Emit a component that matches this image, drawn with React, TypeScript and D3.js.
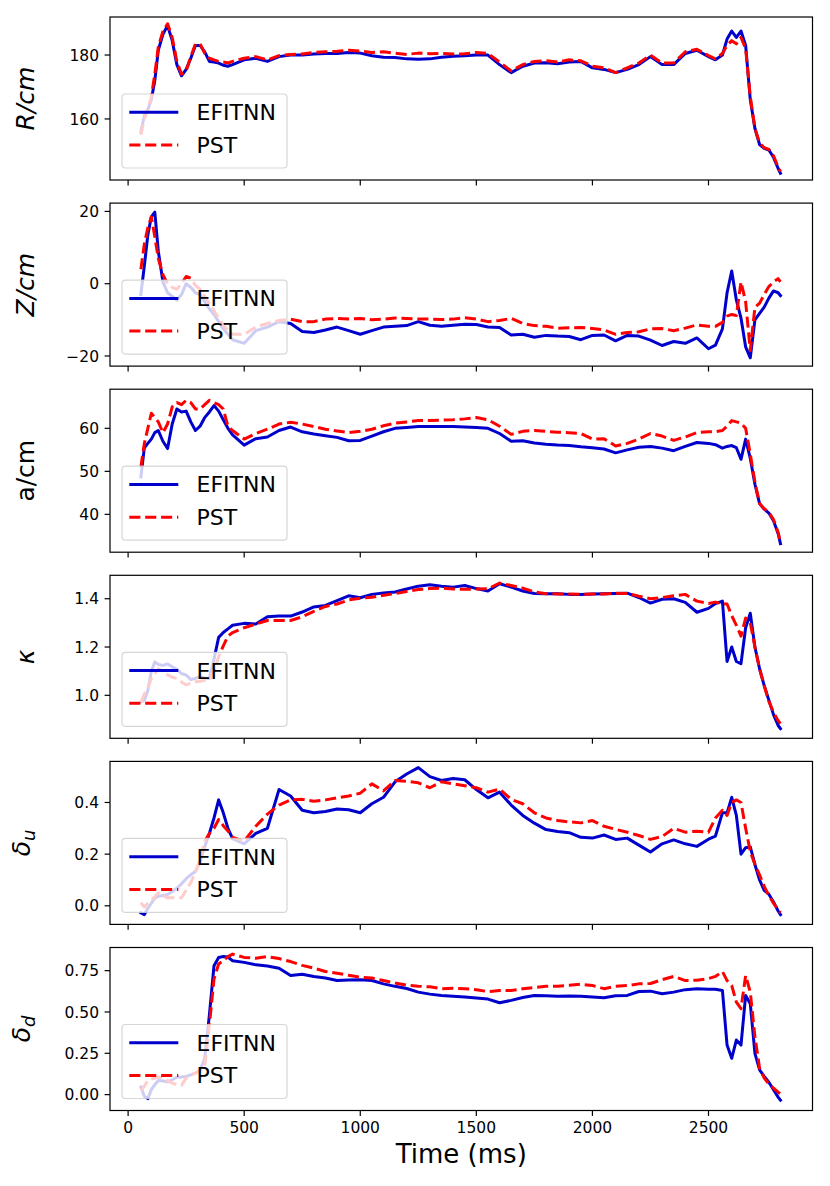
import * as d3 from 'd3';

// shared time base (ms)
const time = [
  55, 70, 85, 100, 115, 130, 150, 170, 190, 210, 230, 250, 270, 290, 310, 330, 350, 370, 390, 410, 430, 450,
  500, 550, 600, 650, 700, 750, 800, 850, 900, 950, 1000, 1050, 1100, 1150, 1200, 1250, 1300, 1350, 1400, 1450,
  1500, 1550, 1600, 1650, 1700, 1750, 1800, 1850, 1900, 1950, 2000, 2050, 2100, 2150, 2200, 2250, 2300, 2350,
  2400, 2450, 2500,
  2530, 2560, 2580, 2600, 2620, 2640, 2660, 2680, 2700, 2720, 2740, 2760, 2780, 2800, 2810,
];

const rEfit = [
  156, 161, 163, 166, 172, 181.5, 186.5, 189.2, 184.5, 177, 173.5, 175.5, 179, 183, 183, 181, 178, 177.8, 177.5, 176.8, 176.5, 177,
  178.5, 179, 178, 179.5, 180, 180, 180.3, 180.5, 180.5, 180.8, 180.6, 179.8, 179.3, 179.2, 178.8, 178.7, 178.8, 179.3, 179.6, 179.8,
  180, 180, 177, 174.5, 176.5, 177.5, 177.6, 177.3, 177.8, 178, 176, 175.5, 174.5, 175.5, 177, 179.5, 177, 177, 180.5, 181.5, 179.5,
  178.5, 180, 185, 187.5, 185.5, 187.5, 183, 166, 157, 152, 150.8, 150.3, 148, 144.5, 143,
];
const rPst = [
  155, 160, 163, 167, 174, 182.5, 187.5, 189.8, 185.5, 178, 174, 175, 179.5, 183.5, 183.5, 180.5, 179, 178.5, 178, 177.8, 177.5, 178,
  179, 179.5, 178.5, 179.8, 180.2, 180.3, 180.8, 181, 181.2, 181.5, 181.2, 180.8, 181, 180.6, 180.2, 180.6, 180.4, 180.5, 180.3, 180.4,
  180.8, 180.5, 177.8, 175, 177, 178, 178.2, 177.8, 178.5, 178.2, 176.5, 176, 174.5, 176, 177.5, 180, 177.5, 177.5, 181, 181.8, 179.8,
  178.8, 180.5, 183, 184.5, 183.5, 185.5, 182, 167, 157, 152.5, 151, 150.5, 148.5, 145, 143.5,
];

const zEfit = [
  -3, 5, 13.5, 18.5, 19.8, 9, 0.5, -2.5, -3.5, -4.5, -3, 0, -1, -2.5, -3, -5, -7, -8.5, -10.5, -12.5, -14, -15.5,
  -16.5, -13, -12, -10.5, -11, -13.2, -13.5, -12.8, -12, -13, -14, -13, -12, -11.8, -11.6, -10.5, -11.5, -11.8, -11.5, -11.2,
  -11.3, -12, -12.1, -14.2, -14, -14.8, -14.3, -14.5, -14.6, -15.5, -14.3, -14.2, -15.8, -14.3, -14.5, -15.6, -17.1, -16, -16.5, -15, -18,
  -17, -12.5, -2.5, 3.5, -4.5, -9.5, -17.5, -20.5, -10, -8.2, -6.5, -4, -2, -2.5, -3.3,
];
const zPst = [
  4, 11, 15.5, 18.5, 13, 7, 2.5, 0, -1, -1.5, 0, 2, 1.5, -0.5, -1.5, -3.5, -5.5, -7.5, -9.5, -11.5, -13, -14,
  -14, -12, -11, -10.2, -9.8, -10.5, -10.5, -9.8, -9.6, -9.8, -9.6, -10, -9.8, -9.5, -9.6, -9.8, -9.8, -9.9, -9.8, -9.4,
  -9.8, -10.5, -10.2, -9.6, -11, -11.6, -11.8, -12.3, -12.2, -12.1, -12.4, -12.8, -14, -13.5, -13.3, -12.5, -12.4, -13, -12.3, -11.4, -11.8,
  -11.8, -10.7, -9, -8.5, -8.8, 0.5, -5, -18.5, -6.5, -5.4, -3, -0.8, 0.5, 1.4, 0.5,
];

const aEfit = [
  48.7, 55.5, 56.5, 57.5, 59, 59.5, 57, 55.3, 61, 64.5, 63.8, 64, 61.5, 59.5, 60.5, 62.5, 63.8, 65.3, 64, 62, 60, 58.5,
  56.1, 57.6, 58, 59.5, 60.3, 59.2, 58.7, 58.3, 57.9, 57.1, 57.2, 58.2, 59.2, 60, 60.2, 60.4, 60.4, 60.4, 60.4, 60.3,
  60.2, 60, 58.8, 57, 57.1, 56.6, 56.3, 56.1, 56, 55.7, 55.5, 55.2, 54.3, 55, 55.6, 55.8, 55.4, 54.8, 55.8, 56.7, 56.5,
  56.2, 55.4, 55.8, 56, 55.5, 52.8, 57.5, 53, 47, 42.5, 41.2, 40.3, 38.5, 35.5, 33.2,
];
const aPst = [
  51, 56.5, 60, 63.5, 62.5, 61.5, 59, 61, 65, 66, 65.5, 66.5, 66, 64.5, 64.5, 65.5, 66.5, 66, 65.5, 64.5, 60.5, 59.5,
  57.5, 58.8, 59.8, 61, 61.4, 61, 60.4, 59.8, 59.4, 59, 59.3, 59.8, 60.6, 61.2, 61.5, 61.8, 61.8, 61.9, 62, 62.2,
  62.5, 62, 60.5, 58.6, 59.3, 59.5, 59.3, 59.1, 59, 58.8, 57.5, 57.6, 55.9, 56.5, 57.5, 58.8, 58.2, 57.2, 58, 59, 59.2,
  59.2, 59.5, 60.5, 61.8, 61.5, 61.2, 60, 54, 47.5, 42.5, 41.3, 40.5, 38.8, 35.8, 33.5,
];

const kEfit = [
  0.972, 0.98, 1.02, 1.1, 1.138, 1.128, 1.124, 1.13, 1.118, 1.108, 1.09, 1.084, 1.065, 1.07, 1.077, 1.072, 1.07, 1.15, 1.24, 1.26, 1.275, 1.29,
  1.298, 1.295, 1.325, 1.328, 1.328, 1.345, 1.366, 1.372, 1.392, 1.412, 1.404, 1.418, 1.424, 1.428, 1.44, 1.452, 1.458, 1.452, 1.448, 1.455,
  1.442, 1.432, 1.462, 1.448, 1.432, 1.422, 1.421, 1.421, 1.418, 1.417, 1.42, 1.421, 1.422, 1.423, 1.405, 1.382, 1.398, 1.4, 1.385, 1.344, 1.36,
  1.38, 1.39, 1.14, 1.2, 1.14, 1.131, 1.28, 1.34, 1.2, 1.11, 1.04, 0.98, 0.92, 0.875, 0.862,
];
const kPst = [
  0.972, 1.005, 1.03, 1.07, 1.09, 1.11, 1.1, 1.085, 1.075, 1.07, 1.055, 1.043, 1.05, 1.056, 1.058, 1.062, 1.064, 1.1, 1.16, 1.205, 1.245, 1.26,
  1.28, 1.295, 1.31, 1.31, 1.31, 1.325, 1.348, 1.368, 1.378, 1.395, 1.402, 1.406, 1.414, 1.421, 1.43, 1.438, 1.442, 1.444, 1.44, 1.439,
  1.44, 1.441, 1.465, 1.455, 1.444, 1.428, 1.421, 1.42, 1.42, 1.418, 1.42, 1.42, 1.423, 1.422, 1.41, 1.4, 1.405, 1.412, 1.418, 1.39, 1.38,
  1.386, 1.38, 1.378, 1.33, 1.29, 1.245, 1.32, 1.3, 1.2, 1.11, 1.04, 0.975, 0.93, 0.895, 0.883,
];

const duEfit = [
  -0.027, -0.034, -0.01, 0.01, 0.03, 0.037, 0.04, 0.044, 0.055, 0.068, 0.085, 0.105, 0.12, 0.133, 0.17, 0.23, 0.28, 0.34, 0.41, 0.36, 0.3, 0.26,
  0.24, 0.28, 0.3, 0.45, 0.425, 0.37, 0.36, 0.365, 0.375, 0.372, 0.36, 0.395, 0.42, 0.48, 0.51, 0.535, 0.5, 0.485, 0.493, 0.488,
  0.45, 0.418, 0.44, 0.39, 0.35, 0.32, 0.295, 0.288, 0.283, 0.265, 0.262, 0.274, 0.257, 0.262, 0.235, 0.208, 0.24, 0.255, 0.24, 0.23, 0.258,
  0.27, 0.36, 0.36, 0.42, 0.35, 0.2, 0.225, 0.228, 0.16, 0.1, 0.06, 0.045, 0.015, -0.02, -0.034,
];
const duPst = [
  0.012, -0.005, 0.01, 0.02, 0.035, 0.05, 0.04, 0.031, 0.031, 0.031, 0.031, 0.06, 0.09, 0.13, 0.18, 0.25, 0.28, 0.3, 0.334, 0.31, 0.29, 0.265,
  0.25, 0.308, 0.355, 0.39, 0.41, 0.412, 0.405, 0.41, 0.418, 0.425, 0.436, 0.472, 0.445, 0.485, 0.482, 0.476, 0.457, 0.48, 0.472, 0.465,
  0.457, 0.44, 0.452, 0.412, 0.395, 0.36, 0.34, 0.33, 0.325, 0.321, 0.33, 0.308, 0.296, 0.285, 0.272, 0.257, 0.268, 0.3, 0.285, 0.289, 0.285,
  0.34, 0.37, 0.35, 0.4, 0.41, 0.4, 0.3, 0.21, 0.16, 0.12, 0.075, 0.04, 0.01, -0.015, -0.027,
];

const ddEfit = [
  0.046, -0.01, -0.024, 0.03, 0.06, 0.085, 0.083, 0.077, 0.09, 0.105, 0.107, 0.11, 0.12, 0.13, 0.147, 0.22, 0.48, 0.78, 0.83, 0.835, 0.832, 0.81,
  0.8, 0.785, 0.778, 0.765, 0.72, 0.728, 0.714, 0.705, 0.69, 0.694, 0.695, 0.69, 0.67, 0.655, 0.642, 0.62, 0.608, 0.6, 0.595, 0.59,
  0.585, 0.578, 0.556, 0.57, 0.588, 0.6, 0.598, 0.595, 0.596, 0.595, 0.59, 0.586, 0.598, 0.6, 0.624, 0.626, 0.61, 0.62, 0.635, 0.641, 0.638,
  0.637, 0.63, 0.3, 0.22, 0.33, 0.3, 0.6, 0.55, 0.25, 0.15, 0.11, 0.075, 0.03, -0.015, -0.034,
];
const ddPst = [
  0.026, 0.05, 0.087, 0.095, 0.1, 0.107, 0.1, 0.085, 0.07, 0.06, 0.056, 0.1, 0.12, 0.13, 0.15, 0.17, 0.42, 0.7, 0.79, 0.81, 0.835, 0.85,
  0.83, 0.825, 0.835, 0.823, 0.805, 0.782, 0.765, 0.745, 0.734, 0.722, 0.71, 0.705, 0.69, 0.675, 0.662, 0.656, 0.652, 0.641, 0.643, 0.641,
  0.635, 0.623, 0.63, 0.63, 0.64, 0.648, 0.655, 0.655, 0.661, 0.668, 0.66, 0.641, 0.655, 0.66, 0.67, 0.672, 0.695, 0.715, 0.69, 0.692, 0.702,
  0.715, 0.745, 0.69, 0.66, 0.56, 0.52, 0.72, 0.62, 0.35, 0.16, 0.1, 0.065, 0.04, 0.015, 0.006,
];

const xTicks = [0, 500, 1000, 1500, 2000, 2500];
const seriesNames = ['EFITNN', 'PST'];

const panelEfit = [rEfit, zEfit, aEfit, kEfit, duEfit, ddEfit];
const panelPst = [rPst, zPst, aPst, kPst, duPst, ddPst];
const panelDomains: [number, number][] = [
  [140.9, 191.9], [-22.8, 22.3], [31.2, 69.1], [0.822, 1.497], [-0.072, 0.559], [-0.096, 0.89],
];
const panelTicks = [
  [160, 180], [-20, 0, 20], [40, 50, 60], [1.0, 1.2, 1.4], [0.0, 0.2, 0.4], [0.0, 0.25, 0.5, 0.75],
];
const panelFormats = ['d', 'd', 'd', '.1f', '.1f', '.2f'];

const W = 830;
const H = 1186;
const left = 110;
const right = 812.5;
const top0 = 17;
const step = 186.1;
const panelH = 163;
const FONT = 'DejaVu Sans, sans-serif';
const BLUE = '#0000cd';
const RED = '#ff0000';

function YLabel({ i, x, y }: { i: number; x: number; y: number }) {
  const common = { fontFamily: FONT, fontSize: 25, textAnchor: 'middle' as const };
  const tf = `translate(${x},${y}) rotate(-90)`;
  if (i === 0) return <text {...common} transform={tf} fontStyle="italic" dy="0.35em">R/cm</text>;
  if (i === 1) return <text {...common} transform={tf} fontStyle="italic" dy="0.35em">Z/cm</text>;
  if (i === 2) return <text {...common} transform={tf} dy="0.35em">a/cm</text>;
  if (i === 3) return <text {...common} transform={tf} fontStyle="italic" dy="0.35em">κ</text>;
  const sub = i === 4 ? 'u' : 'd';
  return (
    <text {...common} transform={tf} fontStyle="italic" dy="0.2em">
      δ<tspan fontSize={18} dy="0.3em">{sub}</tspan>
    </text>
  );
}

export default function App() {
  const x = d3.scaleLinear().domain([-78, 2948]).range([left, right]);
  const data = time.map((t, k) => k);

  return (
    <svg width={W} height={H} style={{ position: 'absolute', left: 0, top: 0, background: '#fff' }}>
      <defs>
        {panelDomains.map((_, i) => (
          <clipPath key={i} id={`clip${i}`}>
            <rect x={left} y={top0 + i * step} width={right - left} height={panelH} />
          </clipPath>
        ))}
      </defs>
      {panelDomains.map((dom, i) => {
        const pTop = top0 + i * step;
        const pBot = pTop + panelH;
        const y = d3.scaleLinear().domain(dom).range([pBot, pTop]);
        const fmt = d3.format(panelFormats[i]);
        const efit = panelEfit[i];
        const pst = panelPst[i];
        const lineE = d3.line<number>().x((k) => x(time[k])).y((k) => y(efit[k]));
        const lineP = d3.line<number>().x((k) => x(time[k])).y((k) => y(pst[k]));
        const legTop = pBot - 12 - 74;
        return (
          <g key={i}>
            <g clipPath={`url(#clip${i})`}>
              <path d={lineE(data) ?? ''} fill="none" stroke={BLUE} strokeWidth={3} strokeLinejoin="round" strokeLinecap="square" />
              <path d={lineP(data) ?? ''} fill="none" stroke={RED} strokeWidth={3} strokeDasharray="11.1,4.8" strokeLinejoin="round" />
            </g>
            <rect x={left} y={pTop} width={right - left} height={panelH} fill="none" stroke="#000" strokeWidth={1.2} />
            {xTicks.map((t) => (
              <line key={t} x1={x(t)} x2={x(t)} y1={pBot} y2={pBot + 5.4} stroke="#000" strokeWidth={1.2} />
            ))}
            {panelTicks[i].map((v) => (
              <g key={v}>
                <line x1={left - 5.4} x2={left} y1={y(v)} y2={y(v)} stroke="#000" strokeWidth={1.2} />
                <text x={left - 11} y={y(v)} dy="0.36em" textAnchor="end" fontFamily={FONT} fontSize={15.5}>
                  {fmt(v)}
                </text>
              </g>
            ))}
            <YLabel i={i} x={25} y={(pTop + pBot) / 2} />
            <g>
              <rect x={122} y={legTop} width={165} height={74} rx={3.5} fill="#fff" fillOpacity={0.8} stroke="#cccccc" strokeOpacity={0.8} strokeWidth={1.2} />
              {seriesNames.map((name, j) => {
                const cy = legTop + 18.3 + j * 32.7;
                return (
                  <g key={name}>
                    <line x1={129.3} x2={178.3} y1={cy} y2={cy} stroke={j === 0 ? BLUE : RED} strokeWidth={3}
                      strokeDasharray={j === 0 ? undefined : '11.1,4.8'} />
                    <text x={196.5} y={cy} dy="0.36em" fontFamily={FONT} fontSize={22}>{name}</text>
                  </g>
                );
              })}
            </g>
          </g>
        );
      })}
      {xTicks.map((t) => (
        <text key={t} x={x(t)} y={top0 + 5 * step + panelH + 11} dy="0.76em" textAnchor="middle" fontFamily={FONT} fontSize={15.5}>
          {t}
        </text>
      ))}
      <text x={(left + right) / 2} y={1163} textAnchor="middle" fontFamily={FONT} fontSize={26}>Time (ms)</text>
    </svg>
  );
}
